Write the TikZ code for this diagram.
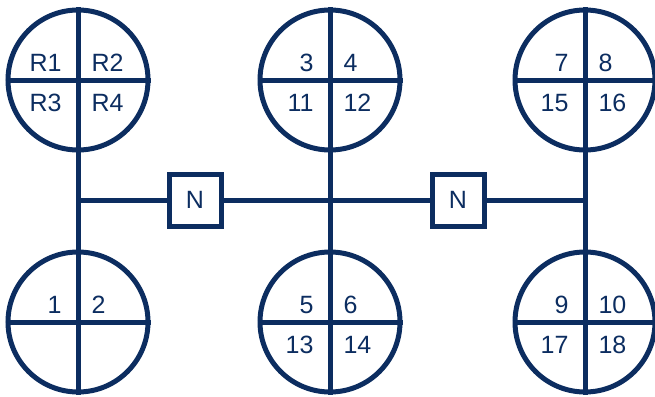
\documentclass[tikz,border=0pt]{standalone}
\usepackage{fontspec}
\setmainfont{Liberation Sans}
\usetikzlibrary{calc}
\definecolor{navy}{RGB}{12,45,96}
\newcommand{\quadlabels}[5]{%
  \node[lab,anchor=east] at ($(#1)+(-14,-17)$) {#2};
  \node[lab,anchor=west] at ($(#1)+(11,-17)$) {#3};
  \node[lab,anchor=east] at ($(#1)+(-14,23)$) {#4};
  \node[lab,anchor=west] at ($(#1)+(11,23)$) {#5};
}
\begin{document}
\begin{tikzpicture}[x=1pt,y=-1pt,
  line width=5pt, draw=navy,
  disc/.style={circle,draw=navy,line width=5pt,minimum size=140pt,inner sep=0pt},
  nbox/.style={rectangle,draw=navy,line width=5pt,minimum size=52pt,inner sep=0pt,fill=white,
    text=navy,font=\fontsize{25}{28}\selectfont},
  lab/.style={text=navy,font=\fontsize{25}{28}\selectfont,inner sep=0pt}]
\useasboundingbox (0,0) rectangle (655,396);
% circles
\node[disc] (tl) at (78,80) {};
\node[disc] (tm) at (330,80) {};
\node[disc] (tr) at (585,80) {};
\node[disc] (bl) at (78,322) {};
\node[disc] (bm) at (330,322) {};
\node[disc] (br) at (585,322) {};
\foreach \c in {tl,tm,tr,bl,bm,br}{
  \draw[navy] (\c.north) -- (\c.south);
  \draw[navy] (\c.west) -- (\c.east);
}
% vertical connectors
\draw[navy] (tl.south) -- (bl.north);
\draw[navy] (tm.south) -- (bm.north);
\draw[navy] (tr.south) -- (br.north);
% horizontal bus
\coordinate (j1) at (78,200);
\coordinate (j2) at (330,200);
\coordinate (j3) at (585,200);
\node[nbox] (n1) at (195,200) {N};
\node[nbox] (n2) at (458,200) {N};
\draw[navy] (j1) -- (n1.west);
\draw[navy] (n1.east) -- (n2.west);
\draw[navy] (n2.east) -- (j3);
% labels
\quadlabels{tl}{R1}{R2}{R3}{R4}
\quadlabels{tm}{3}{4}{11}{12}
\quadlabels{tr}{7}{8}{15}{16}
\quadlabels{bl}{1}{2}{}{}
\quadlabels{bm}{5}{6}{13}{14}
\quadlabels{br}{9}{10}{17}{18}
\end{tikzpicture}
\end{document}
